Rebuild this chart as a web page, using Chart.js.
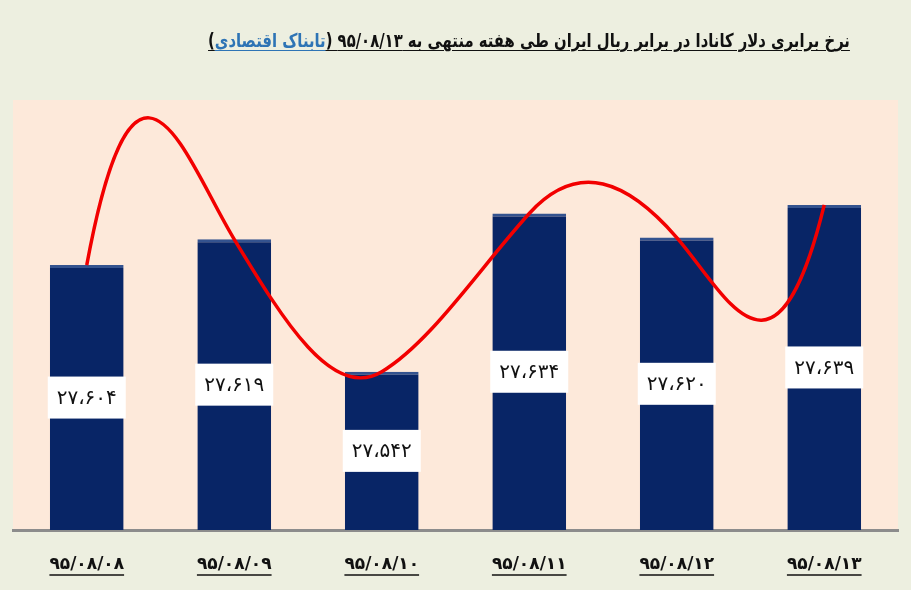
<!DOCTYPE html>
<html><head><meta charset="utf-8">
<script src="https://cdn.jsdelivr.net/npm/chart.js@4.4.1/dist/chart.umd.min.js"></script>
<style>
html,body{margin:0;padding:0;background:#edefe0;}
#wrap{position:relative;width:911px;height:590px;overflow:hidden;}
#title{position:absolute;top:29px;right:61px;direction:rtl;unicode-bidi:embed;font-family:"DejaVu Sans",sans-serif;font-weight:bold;font-size:19px;color:#111;text-decoration:underline;text-underline-offset:3px;white-space:nowrap;transform:scaleX(0.78);transform-origin:right top;}
#title span{color:#2e74b5;text-decoration:underline;text-underline-offset:3px;}
canvas{position:absolute;left:0;top:0;}
</style></head><body>
<div id="wrap"><canvas id="c" width="911" height="590"></canvas>
<div id="title" dir="rtl">نرخ برابری دلار کانادا در برابر ریال ایران طی هفته منتهی به ۹۵/۰۸/۱۳ (<span>تابناک اقتصادی</span>)</div></div>
<script>
const categories = ['۹۵/۰۸/۰۸','۹۵/۰۸/۰۹','۹۵/۰۸/۱۰','۹۵/۰۸/۱۱','۹۵/۰۸/۱۲','۹۵/۰۸/۱۳'];
const rateValues = [27604, 27619, 27542, 27634, 27620, 27639];
const trendValues = [27604, 27619, 27542, 27634, 27620, 27639];
const yMin = 27450;
const yMax = 27700;

// curve shape (tangent slopes at each point, pixel/pixel) - styling only
const curveSlopes = [-5.4, 1.65, -0.6, -1.1, 1.15, -4.1];

const faDigits = ['۰','۱','۲','۳','۴','۵','۶','۷','۸','۹'];
function faNum(v){
  const s = String(v);
  const grouped = s.length > 3 ? s.slice(0, s.length-3) + ',' + s.slice(s.length-3) : s;
  let out = '';
  for (const ch of grouped){
    if (ch >= '0' && ch <= '9') out += faDigits[ch.charCodeAt(0)-48];
    else out += '\u060C';
  }
  return out;
}

const plotBg = {
  id:'plotBg',
  beforeDraw(chart){
    const {ctx, chartArea:a} = chart;
    ctx.save();
    ctx.fillStyle = '#fde9da';
    ctx.fillRect(a.left, a.top, a.right-a.left, a.bottom-a.top);
    ctx.restore();
  }
};

const curveShape = {
  id:'curveShape',
  beforeDatasetDraw(chart, args){
    if (args.index !== 1) return;
    const meta = args.meta;
    const line = meta.dataset;
    line.updateControlPoints(chart.chartArea, meta.iScale.axis);
    const pts = meta.data;
    for (let i=0;i<pts.length;i++){
      const p = pts[i];
      const dl = i>0 ? (p.x - pts[i-1].x)/3 : 0;
      const dr = i<pts.length-1 ? (pts[i+1].x - p.x)/3 : 0;
      p.cp1x = p.x - dl; p.cp1y = p.y - curveSlopes[i]*dl;
      p.cp2x = p.x + dr; p.cp2y = p.y + curveSlopes[i]*dr;
    }
    line._path = undefined;
  }
};

const barLabels = {
  id:'barLabels',
  afterDraw(chart){
    const ctx = chart.ctx;
    const ys = chart.scales.y;
    const xs = chart.scales.x;
    ctx.save();
    rateValues.forEach((v, i) => {
      const x = xs.getPixelForValue(i);
      const top = ys.getPixelForValue(v);
      const base = chart.chartArea.bottom;
      const cy = (top + base)/2;
      const w = 78, h = 42;
      ctx.fillStyle = '#ffffff';
      ctx.fillRect(x - w/2, cy - h/2, w, h);
      ctx.fillStyle = '#111111';
      ctx.font = '20px "DejaVu Sans"';
      ctx.textAlign = 'center';
      ctx.textBaseline = 'middle';
      ctx.fillText(faNum(v), x, cy + 1);
    });
    ctx.font = 'bold 17px "DejaVu Sans"';
    ctx.strokeStyle = '#111';
    ctx.lineWidth = 1.5;
    categories.forEach((c, i) => {
      const x = xs.getPixelForValue(i);
      const w = ctx.measureText(c).width;
      ctx.beginPath();
      ctx.moveTo(x - w/2, 575);
      ctx.lineTo(x + w/2, 575);
      ctx.stroke();
    });
    ctx.restore();
  }
};

new Chart(document.getElementById('c'), {
  data: {
    labels: categories,
    datasets: [
      {
        type:'bar',
        data: rateValues,
        backgroundColor:'#082566',
        borderColor:'#34538f',
        borderWidth:{top:3,left:0,right:0,bottom:0},
        borderSkipped:false,
        barPercentage:0.5,
        categoryPercentage:1.0,
        order:1
      },
      {
        type:'line',
        data: trendValues,
        borderColor:'#f20000',
        borderWidth:3.5,
        pointRadius:0,
        tension:0.4,
        fill:false,
        order:0
      }
    ]
  },
  options: {
    responsive:false,
    animation:false,
    devicePixelRatio:1,
    layout:{padding:{top:100,left:13,right:13,bottom:0}},
    plugins:{legend:{display:false}, tooltip:{enabled:false}, title:{display:false}},
    scales:{
      y:{display:false, min:yMin, max:yMax},
      x:{
        grid:{display:false, drawTicks:false},
        border:{display:true, color:'#8c8c8c', width:3},
        ticks:{color:'#111', font:{family:'DejaVu Sans', size:17, weight:'bold'}, padding:24},
        afterFit(scale){ scale.height = 60; }
      }
    }
  },
  plugins:[plotBg, curveShape, barLabels]
});
</script>
</body></html>
